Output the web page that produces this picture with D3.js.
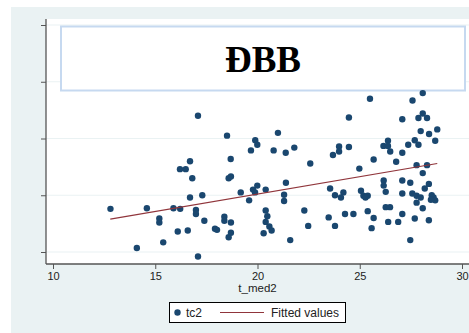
<!DOCTYPE html>
<html>
<head>
<meta charset="utf-8">
<script src="https://cdn.jsdelivr.net/npm/d3@7"></script>
<style>
  body { margin: 0; background: #fff; }
  text { font-family: "Liberation Sans", Arial, sans-serif; }
</style>
</head>
<body>
<div id="chart"></div>
<script>
// data
const tMed2 = [
  25.50, 27.58, 28.08, 24.47, 27.08, 27.87, 28.08, 28.29, 17.09, 18.51,
  21.00, 19.89, 19.99, 19.68, 20.79, 21.38, 21.80, 22.58, 18.69, 16.70,
  16.21, 16.49, 27.98, 28.39, 28.79, 27.69, 28.69, 23.99, 24.47, 23.99,
  23.69, 26.38, 26.16, 26.38, 26.49, 27.37, 27.87, 27.08, 25.68, 26.78,
  24.98, 27.78, 28.29, 28.08, 12.81, 14.59, 15.89, 16.22, 15.20, 15.20,
  16.10, 16.59, 15.39, 14.10, 17.09, 16.70, 17.30, 16.99, 16.99, 17.40,
  17.92, 18.02, 16.81, 18.38, 18.38, 18.70, 18.59, 18.70, 18.59, 18.70,
  19.18, 19.78, 19.99, 19.88, 20.40, 21.39, 21.30, 21.30, 19.59, 20.40,
  20.48, 20.40, 20.58, 20.69, 20.30, 21.60, 22.29, 22.48, 23.48, 23.55,
  23.79, 24.20, 24.08, 25.06, 25.18, 25.39, 25.28, 26.17, 26.17, 26.27,
  27.08, 27.47, 27.08, 27.57, 27.78, 27.98, 27.78, 28.18, 28.38, 28.52,
  28.61, 28.69, 28.48, 23.79, 24.28, 24.69, 25.39, 25.68, 25.58, 26.27,
  26.48, 26.39, 26.88, 27.08, 27.69, 27.47, 28.08, 28.38
]
const tc2 = [
  2.70, 2.67, 2.80, 2.37, 2.34, 2.36, 2.44, 2.36, 2.40, 2.05,
  2.10, 1.97, 1.89, 1.79, 1.79, 1.75, 1.84, 1.56, 1.64, 1.60,
  1.46, 1.46, 2.13, 2.08, 2.16, 1.97, 1.96, 1.86, 1.85, 1.77,
  1.71, 1.96, 1.87, 1.87, 1.77, 1.89, 1.89, 1.75, 1.63, 1.59,
  1.47, 1.53, 1.53, 1.39, 0.76, 0.77, 0.77, 0.76, 0.59, 0.52,
  0.36, 0.38, 0.17, 0.07, -0.08, 0.96, 1.00, 0.74, 0.67, 0.55,
  0.41, 0.39, 1.30, 0.62, 0.55, 0.52, 0.26, 0.34, 1.30, 1.33,
  1.05, 1.10, 1.17, 1.05, 1.10, 1.22, 1.01, 0.90, 0.91, 0.73,
  0.63, 0.53, 0.45, 0.38, 0.33, 0.21, 0.73, 0.46, 0.61, 1.12,
  1.00, 1.05, 0.96, 1.08, 0.99, 0.99, 0.96, 1.26, 1.17, 1.06,
  1.26, 1.22, 1.03, 1.03, 0.99, 0.96, 0.87, 1.12, 1.20, 1.00,
  0.96, 0.91, 0.92, 0.46, 0.67, 0.67, 0.72, 0.60, 0.42, 0.79,
  0.79, 0.53, 0.53, 0.67, 0.59, 0.21, 0.77, 0.56
]
// fitted line end points
const fitX = [12.8, 28.79]
const fitY = [0.58, 1.56]

const xTicks = [10, 15, 20, 25, 30]
const yTicks = [0, 1, 2, 3, 4]

const width = 469
const height = 333
const plot = { left: 46, top: 19, right: 469, bottom: 264 }

const navy = '#1a476f'
const maroon = '#90353b'

const svg = d3
  .select('#chart')
  .append('svg')
  .attr('width', width)
  .attr('height', height)

svg.append('rect').attr('width', width).attr('height', height).attr('fill', '#fff')

// graph region
svg
  .append('rect')
  .attr('x', 11)
  .attr('y', 7)
  .attr('width', width - 11)
  .attr('height', height - 7)
  .attr('fill', '#eaf2f3')

// plot region
svg
  .append('rect')
  .attr('x', plot.left)
  .attr('y', plot.top)
  .attr('width', plot.right - plot.left)
  .attr('height', plot.bottom - plot.top)
  .attr('fill', '#fff')

const x = d3.scaleLinear().domain([10, 30]).range([53, 462])
const y = d3.scaleLinear().domain([0, 4]).range([252, 25])

// grid
svg
  .append('g')
  .selectAll('line')
  .data(yTicks)
  .join('line')
  .attr('x1', plot.left)
  .attr('x2', plot.right)
  .attr('y1', d => y(d))
  .attr('y2', d => y(d))
  .attr('stroke', '#eaf2f3')
  .attr('stroke-width', 1.2)

// axes (ticks only, lines drawn at region edges)
const yAxis = svg
  .append('g')
  .attr('transform', `translate(${plot.left},0)`)
  .call(d3.axisLeft(y).tickValues(yTicks).tickFormat('').tickSize(5))
yAxis.select('.domain').remove()

const xAxis = svg
  .append('g')
  .attr('transform', `translate(0,${plot.bottom})`)
  .call(d3.axisBottom(x).tickValues(xTicks).tickSize(5).tickPadding(3))
xAxis.select('.domain').remove()
xAxis.selectAll('text').attr('font-size', 11).attr('fill', '#222')
  .style('font-family', '"Liberation Sans", Arial, sans-serif')
svg.selectAll('.tick line').attr('stroke', '#555')

svg
  .append('line')
  .attr('x1', plot.left)
  .attr('x2', plot.left)
  .attr('y1', plot.top)
  .attr('y2', plot.bottom)
  .attr('stroke', '#555')
  .attr('stroke-width', 1.3)
svg
  .append('line')
  .attr('x1', plot.left)
  .attr('x2', plot.right)
  .attr('y1', plot.bottom)
  .attr('y2', plot.bottom)
  .attr('stroke', '#555')
  .attr('stroke-width', 1.3)

svg
  .append('text')
  .attr('x', (plot.left + plot.right) / 2)
  .attr('y', 292)
  .attr('text-anchor', 'middle')
  .attr('font-size', 11.5)
  .attr('fill', '#222')
  .text('t_med2')

// title box
svg
  .append('rect')
  .attr('x', 61)
  .attr('y', 26.5)
  .attr('width', 404)
  .attr('height', 64)
  .attr('fill', '#fff')
  .attr('stroke', '#c6d9f0')
  .attr('stroke-width', 2)
svg
  .append('text')
  .attr('x', 263)
  .attr('y', 71.5)
  .attr('text-anchor', 'middle')
  .attr('font-size', 37)
  .attr('font-weight', 'bold')
  .style('font-family', '"Liberation Serif", "Times New Roman", serif')
  .text('ĐBB')

// points
svg
  .append('g')
  .selectAll('circle')
  .data(d3.zip(tMed2, tc2))
  .join('circle')
  .attr('cx', d => x(d[0]))
  .attr('cy', d => y(d[1]))
  .attr('r', 3.2)
  .attr('fill', navy)

// fitted values
const line = d3
  .line()
  .x(d => x(d[0]))
  .y(d => y(d[1]))
svg
  .append('path')
  .datum(d3.zip(fitX, fitY))
  .attr('d', line)
  .attr('fill', 'none')
  .attr('stroke', maroon)
  .attr('stroke-width', 1.2)

// legend
const legend = svg.append('g')
legend
  .append('rect')
  .attr('x', 169.5)
  .attr('y', 302.5)
  .attr('width', 176)
  .attr('height', 20)
  .attr('fill', '#fff')
  .attr('stroke', '#000')
  .attr('stroke-width', 1)
legend
  .append('circle')
  .attr('cx', 177.5)
  .attr('cy', 312.5)
  .attr('r', 3.2)
  .attr('fill', navy)
legend
  .append('text')
  .attr('x', 186)
  .attr('y', 316.8)
  .attr('font-size', 12)
  .attr('fill', '#222')
  .text('tc2')
legend
  .append('line')
  .attr('x1', 220)
  .attr('x2', 264)
  .attr('y1', 312.5)
  .attr('y2', 312.5)
  .attr('stroke', maroon)
  .attr('stroke-width', 1.2)
legend
  .append('text')
  .attr('x', 271)
  .attr('y', 316.8)
  .attr('font-size', 12)
  .attr('fill', '#222')
  .text('Fitted values')
</script>
</body>
</html>
